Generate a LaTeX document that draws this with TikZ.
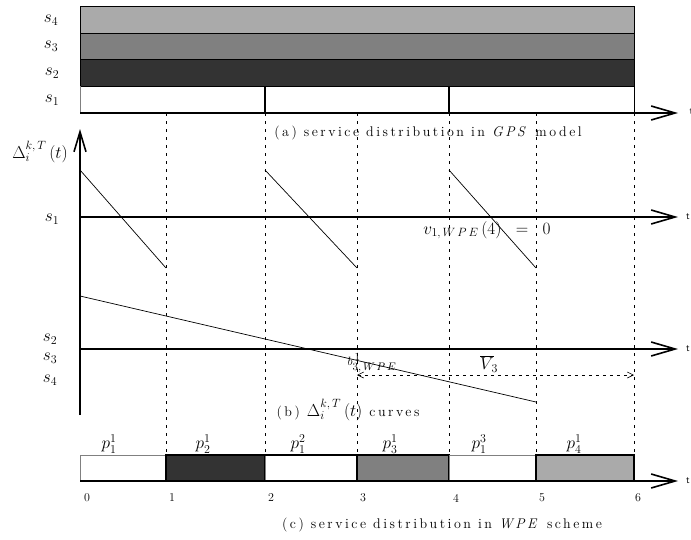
\documentclass[tikz,border=0pt]{standalone}
\usepackage{fontspec}
\usetikzlibrary{arrows.meta}
\newfontfamily\capfont{Latin Modern Roman}[LetterSpace=18]
\DeclareMathSizes{16}{16}{13}{10}
\DeclareMathSizes{14}{14}{12}{9}
\DeclareMathSizes{13}{13}{11}{8}
\definecolor{lightg}{HTML}{AAAAAA}
\definecolor{midg}{HTML}{808080}
\definecolor{darkg}{HTML}{333333}
\tikzset{
  taxis/.style={line width=1.6pt,-{Straight Barb[length=24pt,width=14pt,line width=1.6pt]}},
  band/.style={draw=black,line width=1pt},
  gridline/.style={line width=0.7pt,dash pattern=on 3pt off 5pt},
  curve/.style={line width=0.7pt},
  captxt/.style={inner sep=0pt,font=\capfont\fontsize{14}{16}\selectfont},
  lab/.style={inner sep=0pt,font=\fontsize{16}{18}\selectfont},
  smalllab/.style={inner sep=0pt,font=\fontsize{13}{15}\selectfont},
  ticklab/.style={inner sep=0pt,font=\fontsize{12}{14}\selectfont},
  tlab/.style={inner sep=0pt,anchor=west,font=\sffamily\fontsize{10}{12}\selectfont},
}
\begin{document}
\begin{tikzpicture}[x=1pt,y=-1pt]
\useasboundingbox (0,0) rectangle (691,539);

% ---------- (a) service in the GPS model ----------
\draw[band,fill=lightg] (80,6) rectangle (634,33);
\draw[band,fill=midg]   (80,33) rectangle (634,59);
\draw[band,fill=darkg]  (80,59) rectangle (634,86);
\draw[gray,line width=0.8pt] (80,86) -- (80,113);
\draw[line width=0.8pt] (634,86) -- (634,113);
\draw[line width=1.2pt] (265,86) -- (265,113);
\draw[line width=1.2pt] (449,86) -- (449,113);
\coordinate (a0) at (80,113);
\coordinate (a1) at (678,113);
\draw[taxis] (a0) -- (a1);
\node[tlab] (ta) at (689.5,112) {t};

\node[lab] (sa4) at (51,20) {$s_{4}$};
\node[lab] (sa3) at (51,46) {$s_{3}$};
\node[lab] (sa2) at (52,73) {$s_{2}$};
\node[lab] (sa1) at (52,100) {$s_{1}$};
\node[captxt] (capa) at (428,133) {(a) service distribution in \textit{GPS} model};

% ---------- time grid ----------
\foreach \x in {166,265,357,449,536,634}
  \draw[gridline] (\x,113) -- (\x,455);

% ---------- (b) curves ----------
\coordinate (yb) at (80,415);
\coordinate (yt) at (80,129);
\draw[line width=1.6pt,-{Straight Barb[length=20pt,width=12pt,line width=1.6pt]}] (yb) -- (yt);
\node[lab] (delta) at (40,152) {$\Delta_i^{k,\,T}\,(t)$};

\coordinate (b10) at (80,217);
\coordinate (b11) at (678,217);
\draw[taxis] (b10) -- (b11);
\node[tlab] (tb1) at (686,217) {t};
\node[lab] (sb1) at (52,219) {$s_{1}$};

\coordinate (b20) at (80,349);
\coordinate (b21) at (678,349);
\draw[taxis] (b20) -- (b21);
\node[tlab] (tb2) at (686,349) {t};
\node[lab] (sb2) at (50,339) {$s_{2}$};
\node[lab] (sb3) at (50,358) {$s_{3}$};
\node[lab] (sb4) at (50,380) {$s_{4}$};

% service of session 1
\draw[curve] (80,170) -- (166,268);
\draw[curve] (265,170) -- (357,268);
\draw[curve] (449,170) -- (536,268);
% sessions 2, 3, 4
\draw[curve] (80,296) -- (536,402);

\node[lab] (vlab) at (487,230) {$v_{1,\,W\,P\,E}\,(4)\;\;=\;\;0$};
\node[smalllab] (blab) at (372,363) {$b^{\,1}_{3,\,W\,P\,E}$};
\node[lab] (Vlab) at (489,364) {$\overline{V}_{\!3}$};

\coordinate (vl) at (357,375);
\coordinate (vr) at (634,375);
\draw[line width=0.6pt,dash pattern=on 3pt off 4pt,
      {Straight Barb[length=6pt,width=6pt]}-{Straight Barb[length=6pt,width=6pt]}] (vl) -- (vr);

\node[captxt] (capb) at (348,410) {(b) {\fontsize{16}{18}\selectfont$\Delta_i^{k,\,T}\,(t)$} curves};

% ---------- (c) service in the WPE scheme ----------
\draw[gray,line width=0.8pt,fill=white] (80,455) rectangle (166,481);
\draw[band,line width=1.2pt,fill=darkg] (166,455) rectangle (265,481);
\draw[gray,line width=0.8pt,fill=white] (265,455) rectangle (357,481);
\draw[band,line width=1.2pt,fill=midg] (357,455) rectangle (449,481);
\draw[gray,line width=0.8pt,fill=white] (449,455) rectangle (536,481);
\draw[band,line width=1.2pt,fill=lightg] (536,455) rectangle (634,481);
\draw[line width=1.2pt] (166,455) -- (357,455);
\draw[line width=1.2pt] (357,455) -- (449,455);

\coordinate (c0) at (80,481);
\coordinate (c1) at (678,481);
\draw[taxis] (c0) -- (c1);
\node[tlab] (tc) at (686,481) {t};

\node[lab] (p1) at (109,444) {$p^{1}_{1}$};
\node[lab] (p2) at (203,444) {$p^{1}_{2}$};
\node[lab] (p3) at (298,444) {$p^{2}_{1}$};
\node[lab] (p4) at (390,444) {$p^{1}_{3}$};
\node[lab] (p5) at (479,444) {$p^{3}_{1}$};
\node[lab] (p6) at (574,444) {$p^{1}_{4}$};

\foreach \n/\x in {0/87,1/172,2/271,3/363,4/456,5/542,6/638}
  \node[ticklab] (k\n) at (\x,498) {\n};

\node[captxt] (capc) at (442,525) {(c) service distribution in \textit{WPE} scheme};
\end{tikzpicture}
\end{document}
